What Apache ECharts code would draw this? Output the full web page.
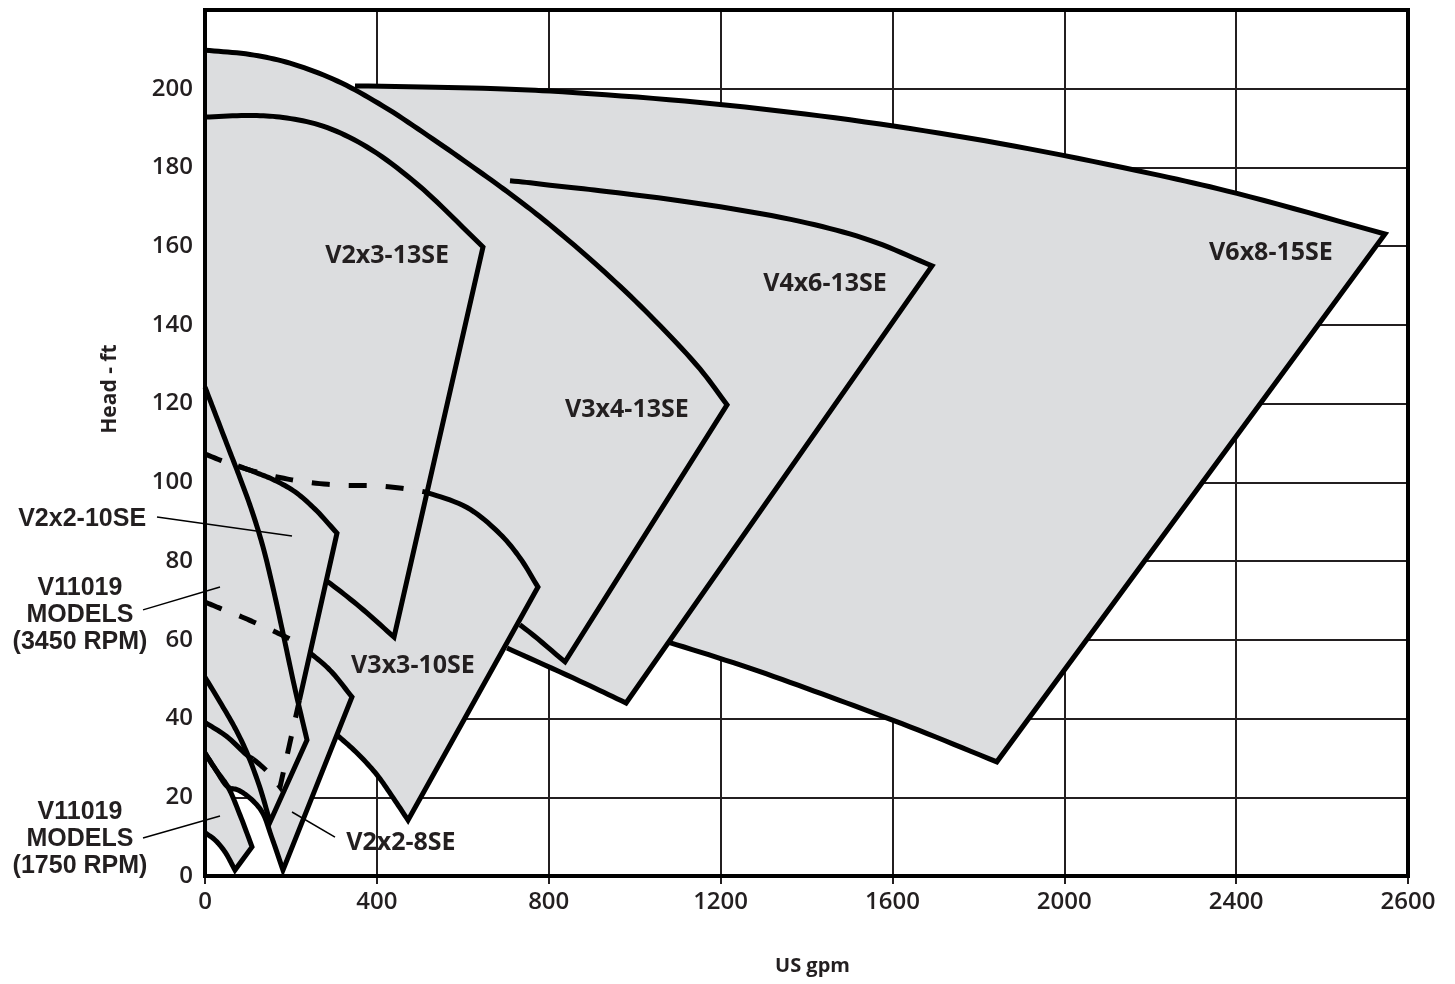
<!DOCTYPE html>
<html>
<head>
<meta charset="utf-8">
<script src="https://cdn.jsdelivr.net/npm/echarts@6.0.0/dist/echarts.min.js"></script>
<style>
html,body{margin:0;padding:0;background:#fff;}
#chart{width:1455px;height:984px;}
</style>
</head>
<body>
<div id="chart"></div>
<script>
// ---------- axes ----------
const xMax = 2800;             // right frame of the grid (printed "2600" in the source)
const xInterval = 400;
const yMax = 220;
const yInterval = 20;
const xLabelOverride = {2800: '2600'};
const xName = 'US gpm';
const yName = 'Head - ft';

// ---------- pump coverage regions: [gpm, head ft] ----------
// V6x8-15SE
const v6x8Top = [[0,200.7],[349.1,200.7],[647,200.1],[803,199.4],[1152.1,196.5],[1501.2,192.1],[1850.4,186.1],[2199.5,178.5],[2402,173.4],[2746.5,163.1]];
const v6x8Bottom = [[0,79.6],[453.9,74.7],[686.6,70.1],[919.4,64.3],[1078,59.4],[1268,52.8],[1455,45.5],[1641,37.9],[1843,29.0]];
// V4x6-13SE
const v4x6Top = [[0,179.1],[337.5,178.1],[570.2,177.2],[709.9,176.6],[803,175.5],[919.4,174.1],[1152.1,170.8],[1384.9,166.3],[1547.8,161.5],[1692.1,155.0]];
const v4x6Bottom = [[0,85.4],[337.5,73.9],[570.2,64.3],[703,57.9],[873,49.5],[980,43.95]];
// V3x4-13SE
const v3x4Top = [[0,209.8],[104.7,208.7],[197.8,206.5],[307.2,202.0],[414.3,195.6],[530.7,187.2],[647,178.3],[726.2,172.0],[803,165.4],[919.4,154.5],[1035.8,142.4],[1152.1,128.8],[1215,119.7]];
const v3x4Bottom = [[0,93.0],[454,79.0],[640,70.1],[733,63.8],[838,54.4]];
// V2x3-13SE
const v2x3Top = [[0,192.8],[104.7,193.2],[181.5,192.7],[274.6,190.5],[377.1,185.2],[493.4,175.8],[647,159.8]];
const v2x3Bottom = [[0,94.3],[174.6,83.3],[284,74.9],[361,68.3],[440,60.7]];
// V3x3-10SE
const v3x3Top = [[0,107.2],[53.5,104.9],[128,102.4],[221,100.3],[314,99.3],[407,99.1],[500,97.8],[516,97.4],[610,93.6],[686.6,86.9],[733.2,80.8],[775,73.4]];
const v3x3Bottom = [[0,58.7],[174.6,46.7],[244.4,41.4],[307.2,35.8],[356.1,31.0],[400.3,25.7],[435.2,20.3],[472.5,14.2]];
// V2x2-10SE
const v2x2_10Top = [[0,107.2],[39.6,105.7],[76.8,104.2],[128,102.1],[162.9,100.5],[209.5,97.6],[256,93.2],[307.2,87.1]];
const v2x2_10EdgeBreak = [219.9,44.7];
const v2x2_10Bottom = [[0,39.0],[50,35.5],[100,30.5],[111.7,29.7],[146.6,26.4],[174.6,22.6]];
// V11019 models, 3450 RPM
const v11019hTop = [[0,124.2],[23.3,117.6],[53.5,109.0],[81.5,101.1],[109.4,92.7],[135,83.6],[158.3,73.2],[181.5,61.7],[209.5,47.5],[237.4,34.55]];
const v11019hBottom = [[0,50.5],[34.9,44.2],[69.8,37.6],[97.8,31.25],[128,22.4],[151.3,13.7]];
// V2x2-8SE
const v2x2_8Top = [[0,69.6],[39.6,67.8],[86.1,65.8],[128,63.8],[169.9,61.7],[209.5,59.45],[244.4,56.65],[290.9,52.3],[342.1,45.5]];
const v2x2_8Bottom = [[0,31.2],[25.6,26.9],[53.5,22.6],[76.8,21.85],[104.7,19.8],[132.7,16.3],[155.9,9.65],[181.5,1.5]];
// V11019 models, 1750 RPM
const v11019lTop = [[0,31.2],[25.6,26.9],[53.5,22.6],[81.5,15.5],[109.4,7.4]];
const v11019lBottom = [[0,11.0],[23.3,9.15],[46.6,6.1],[69.8,1.5]];

// ---------- annotations ----------
const regionLabels = [
  ['V2x3-13SE', 424, 157.5],
  ['V6x8-15SE', 2481, 158.3],
  ['V4x6-13SE', 1443, 150.4],
  ['V3x4-13SE', 982, 118.4],
  ['V3x3-10SE', 484, 53.3],
  ['V2x2-8SE', 456, 8.4]
];
const sideLabels = [
  ['V2x2-10SE', -286, 90.7],
  ['V11019\nMODELS\n(3450 RPM)', -291, 66.3],
  ['V11019\nMODELS\n(1750 RPM)', -291, 9.4]
];
const leaderLines = [
  [[-111.7,91.2],[202.5,86.4]],
  [[-144.3,67.6],[34.9,73.4]],
  [[-144.3,9.65],[34.9,15.24]],
  [[202.5,16.26],[302.6,9.9]]
];
const yNameAt = 123.7;   // head value at the centre of the rotated axis title

// ---------- build ----------
const FILL = '#dcdddf';
const INK = '#231f20';
const SUB = 10;   // drawing subdivisions per curve segment

const regions = {
  v6x8: [v6x8Top, v6x8Bottom],
  v4x6: [v4x6Top, v4x6Bottom],
  v3x4: [v3x4Top, v3x4Bottom],
  v2x3: [v2x3Top, v2x3Bottom],
  v3x3: [v3x3Top, v3x3Bottom],
  v2x2_10: [v2x2_10Top, v2x2_10Bottom],
  v11019h: [v11019hTop, v11019hBottom],
  v2x2_8: [v2x2_8Top, v2x2_8Bottom],
  v11019l: [v11019lTop, v11019lBottom]
};
const regionOrder = Object.keys(regions);

// visible outline pieces: [region, part(0 top / 1 bottom), fromIndex, toIndex] or ['pt', [x,y]]
const outlines = [
  { dash: false, pieces: [['v6x8',0,1,-1],['v6x8',1,-1,4]] },
  { dash: false, pieces: [['v4x6',0,3,-1],['v4x6',1,-1,3]] },
  { dash: false, pieces: [['v3x4',0,0,-1],['v3x4',1,-1,3]] },
  { dash: false, pieces: [['v2x3',0,0,-1],['v2x3',1,-1,2]] },
  { dash: true,  pieces: [['v3x3',0,0,7]] },
  { dash: false, pieces: [['v3x3',0,7,-1],['v3x3',1,-1,3]] },
  { dash: false, pieces: [['v2x2_10',0,2,-1],['pt',v2x2_10EdgeBreak]] },
  { dash: true,  pieces: [['pt',v2x2_10EdgeBreak],['v2x2_10',1,-1,3]] },
  { dash: false, pieces: [['v2x2_10',1,3,0]] },
  { dash: false, pieces: [['v11019h',0,0,-1],['v11019h',1,-1,0]] },
  { dash: true,  pieces: [['v2x2_8',0,0,5]] },
  { dash: false, pieces: [['v2x2_8',0,6,-1],['v2x2_8',1,-1,0]] },
  { dash: false, pieces: [['v11019l',0,0,-1],['v11019l',1,-1,0]] }
];

// centripetal Catmull-Rom through pixel points (drawing only)
function spline(pts, n) {
  if (pts.length < 3) {
    const o = [pts[0]];
    for (let i = 1; i < pts.length; i++) for (let k = 1; k <= n; k++) {
      const t = k / n;
      o.push([pts[i-1][0] + (pts[i][0]-pts[i-1][0])*t, pts[i-1][1] + (pts[i][1]-pts[i-1][1])*t]);
    }
    return o;
  }
  const P = pts.slice();
  const L = P.length;
  const first = [2*P[0][0]-P[1][0], 2*P[0][1]-P[1][1]];
  const last = [2*P[L-1][0]-P[L-2][0], 2*P[L-1][1]-P[L-2][1]];
  const Q = [first].concat(P, [last]);
  const out = [P[0]];
  function d(a, b){ return Math.max(Math.pow(Math.hypot(b[0]-a[0], b[1]-a[1]), 0.5), 1e-4); }
  function lerp(a, b, ta, tb, t){ const w = (t - ta) / (tb - ta); return [a[0] + (b[0]-a[0])*w, a[1] + (b[1]-a[1])*w]; }
  for (let i = 1; i < Q.length - 2; i++) {
    const p0 = Q[i-1], p1 = Q[i], p2 = Q[i+1], p3 = Q[i+2];
    const t0 = 0, t1 = t0 + d(p0,p1), t2 = t1 + d(p1,p2), t3 = t2 + d(p2,p3);
    for (let k = 1; k <= n; k++) {
      const t = t1 + (t2 - t1) * k / n;
      const A1 = lerp(p0,p1,t0,t1,t), A2 = lerp(p1,p2,t1,t2,t), A3 = lerp(p2,p3,t2,t3,t);
      const B1 = lerp(A1,A2,t0,t2,t), B2 = lerp(A2,A3,t1,t3,t);
      out.push(lerp(B1,B2,t1,t2,t));
    }
  }
  return out;
}

function denseCurve(api, curve){ return spline(curve.map(function(p){ return api.coord(p); }), SUB); }

function regionPolygon(api, name){
  const r = regions[name];
  const top = denseCurve(api, r[0]);
  const bot = denseCurve(api, r[1]);
  return top.concat(bot.slice().reverse());
}

function outlinePoints(api, spec){
  let pts = [];
  spec.pieces.forEach(function(pc){
    if (pc[0] === 'pt') { pts.push(api.coord(pc[1])); return; }
    const curve = regions[pc[0]][pc[1]];
    const dense = denseCurve(api, curve);
    const last = curve.length - 1;
    const a = (pc[2] < 0 ? last : pc[2]) * SUB;
    const b = (pc[3] < 0 ? last : pc[3]) * SUB;
    const seg = a <= b ? dense.slice(a, b + 1) : dense.slice(b, a + 1).reverse();
    pts = pts.concat(seg);
  });
  return pts;
}

const series = [];
series.push({
  type: 'custom', coordinateSystem: 'cartesian2d', silent: true, animation: false, z: 2,
  data: regionOrder.map(function(n, i){ return [i, 0]; }),
  renderItem: function(params, api){
    return { type: 'polygon', shape: { points: regionPolygon(api, regionOrder[params.dataIndex]) },
      style: { fill: FILL, stroke: null } };
  }
});
series.push({
  type: 'custom', coordinateSystem: 'cartesian2d', silent: true, animation: false, z: 4,
  data: outlines.map(function(o, i){ return [i, 0]; }),
  renderItem: function(params, api){
    const spec = outlines[params.dataIndex];
    return { type: 'polyline', shape: { points: outlinePoints(api, spec) },
      style: { fill: null, stroke: '#000', lineWidth: 5, lineDash: spec.dash ? [18, 19] : null,
        lineJoin: 'miter', miterLimit: 6, lineCap: 'butt' } };
  }
});

series.push({
  type: 'scatter', silent: true, animation: false, clip: false, z: 7, symbolSize: 0,
  itemStyle: { color: 'transparent', opacity: 1 },
  data: regionLabels.map(function(l){ return { value: [l[1], l[2]], name: l[0] }; }),
  label: { show: true, position: 'inside', formatter: '{b}', color: INK, opacity: 1,
    fontFamily: 'Open Sans', fontWeight: 'bold', fontSize: 25 }
});
series.push({
  type: 'scatter', silent: true, animation: false, clip: false, z: 7, symbolSize: 0,
  itemStyle: { color: 'transparent', opacity: 1 },
  data: sideLabels.map(function(l){ return { value: [l[1], l[2]], name: l[0] }; }),
  label: { show: true, position: 'inside', formatter: '{b}', color: INK, opacity: 1, align: 'center',
    fontFamily: 'Liberation Sans', fontWeight: 'bold', fontSize: 25, lineHeight: 27 }
});

const chart = echarts.init(document.getElementById('chart'), null, { renderer: 'canvas' });
chart.setOption({
  animation: false,
  backgroundColor: '#fff',
  grid: { left: 205, right: 47, top: 10, bottom: 108, show: false },
  xAxis: {
    type: 'value', min: 0, max: xMax, interval: xInterval,
    name: xName, nameLocation: 'middle', nameGap: 80,
    nameTextStyle: { fontFamily: 'Open Sans', fontWeight: 'bold', fontSize: 20, color: INK, padding: [0, 0, 0, 12] },
    axisLine: { show: false },
    axisTick: { show: true, length: 8, lineStyle: { color: INK, width: 2 } },
    axisLabel: { margin: 14, fontFamily: 'Open Sans', fontWeight: 600, fontSize: 24, color: INK,
      formatter: function(v){ return xLabelOverride[v] !== undefined ? xLabelOverride[v] : String(v); } },
    splitLine: { show: true, lineStyle: { color: INK, width: 2 } }
  },
  yAxis: {
    type: 'value', min: 0, max: yMax, interval: yInterval,
    axisLine: { show: false },
    axisTick: { show: false },
    axisLabel: { margin: 12, fontFamily: 'Open Sans', fontWeight: 600, fontSize: 24, color: INK,
      formatter: function(v){ return v >= yMax ? '' : String(v); } },
    splitLine: { show: true, lineStyle: { color: INK, width: 2 } }
  },
  series: series
});

const toPx = function(p){ return chart.convertToPixel({ gridIndex: 0 }, p); };
const p0 = toPx([0, 0]);
const p1 = toPx([xMax, yMax]);
const yNameAnchor = toPx([0, yNameAt]);
const graphics = [{
  type: 'rect', z: 100, silent: true,
  shape: { x: p0[0], y: p1[1], width: p1[0] - p0[0], height: p0[1] - p1[1] },
  style: { fill: null, stroke: '#000', lineWidth: 4 }
}, {
  type: 'text', z: 100, silent: true, rotation: Math.PI / 2,
  x: yNameAnchor[0] - 95, y: yNameAnchor[1],
  style: { text: yName, fontFamily: 'Open Sans', fontWeight: 'bold', fontSize: 21, fill: INK,
    align: 'center', verticalAlign: 'middle' }
}];
leaderLines.forEach(function(l){
  const a = toPx(l[0]), b = toPx(l[1]);
  graphics.push({ type: 'line', z: 90, silent: true,
    shape: { x1: a[0], y1: a[1], x2: b[0], y2: b[1] },
    style: { stroke: '#000', lineWidth: 1.5 } });
});
chart.setOption({ graphic: graphics });
</script>
</body>
</html>
